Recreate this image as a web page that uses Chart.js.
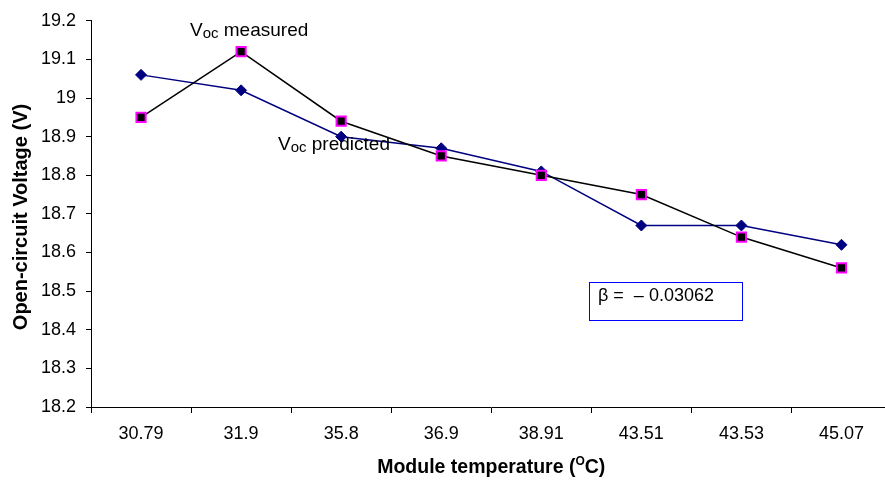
<!DOCTYPE html>
<html>
<head>
<meta charset="utf-8">
<script src="https://cdn.jsdelivr.net/npm/chart.js@4.4.1/dist/chart.umd.min.js"></script>
<style>
    html, body { margin: 0; padding: 0; background: #ffffff; overflow: hidden; }
    #wrap { width: 885px; height: 483px; overflow: hidden; }
</style>
</head>
<body>
<div id="wrap">
    <canvas id="vocChart" width="900" height="483"></canvas>
</div>
<script>
// --- Chart data ---

const temperatures = ["30.79", "31.9", "35.8", "36.9", "38.91", "43.51", "43.53", "45.07"];
const vocMeasured = [18.95, 19.12, 18.94, 18.85, 18.80, 18.75, 18.64, 18.56];
const vocPredicted = [19.06, 19.02, 18.90, 18.87, 18.81, 18.67, 18.67, 18.62];
const yMin = 18.2;
const yMax = 19.2;
const yStep = 0.1;
const betaText = "\u03b2 =  \u2013 0.03062";

const FONT = "'Liberation Sans', Arial, sans-serif";

// --- Text helpers ---

function drawVocLabel(ctx, x, y, rest) {
    ctx.font = "19px " + FONT;
    ctx.fillText("V", x, y);
    let w = ctx.measureText("V").width;
    ctx.font = "15px " + FONT;
    ctx.fillText("oc", x + w, y + 2);
    w += ctx.measureText("oc").width;
    ctx.font = "19px " + FONT;
    ctx.fillText(rest, x + w, y);
}

const annotationsPlugin = {
    id: "annotations",
    afterDatasetsDraw(chart) {
        const ctx = chart.ctx;
        const area = chart.chartArea;
        ctx.save();
        ctx.fillStyle = "#000";
        ctx.textBaseline = "alphabetic";
        ctx.textAlign = "left";

        // Series labels
        drawVocLabel(ctx, 190, 36, " measured");
        drawVocLabel(ctx, 278, 150, " predicted");

        // Beta box
        ctx.strokeStyle = "#0000ff";
        ctx.lineWidth = 1;
        ctx.strokeRect(589.5, 282.5, 153, 38);
        ctx.font = "18px " + FONT;
        ctx.fillText(betaText, 598, 301);

        // X axis title with superscript
        const parts = [
            { t: "Module temperature (", size: 19.5, dy: 0 },
            { t: "O", size: 12, dy: -8 },
            { t: "C)", size: 19.5, dy: 0 }
        ];
        let total = 0;
        parts.forEach(p => {
            ctx.font = "bold " + p.size + "px " + FONT;
            p.w = ctx.measureText(p.t).width;
            total += p.w;
        });
        let x = (area.left + area.right) / 2 - total / 2;
        parts.forEach(p => {
            ctx.font = "bold " + p.size + "px " + FONT;
            ctx.fillText(p.t, x, 473 + p.dy);
            x += p.w;
        });

        // Y axis title
        ctx.translate(27, 217);
        ctx.rotate(-Math.PI / 2);
        ctx.textAlign = "center";
        ctx.font = "bold 20px " + FONT;
        ctx.fillText("Open-circuit Voltage (V)", 0, 0);
        ctx.restore();
    }
};

// --- Chart ---

function renderVocChart() {
    const ctx = document.getElementById("vocChart").getContext("2d");

    new Chart(ctx, {
        type: "line",
        data: {
            labels: temperatures,
            datasets: [{
                label: "Voc measured",
                data: vocMeasured,
                borderColor: "#000000",
                borderWidth: 1.5,
                pointStyle: "rect",
                pointRadius: 6.5,
                pointBorderWidth: 2,
                pointBorderColor: "#ff00ff",
                pointBackgroundColor: "#000000",
                tension: 0
            }, {
                label: "Voc predicted",
                data: vocPredicted,
                borderColor: "#000080",
                borderWidth: 1.5,
                pointStyle: "rectRot",
                pointRadius: 5.5,
                pointBorderWidth: 1,
                pointBorderColor: "#000080",
                pointBackgroundColor: "#000080",
                tension: 0
            }]
        },
        options: {
            responsive: false,
            animation: false,
            devicePixelRatio: 1,
            layout: { padding: { top: 20, right: 8, left: 0, bottom: 0 } },
            plugins: {
                legend: { display: false },
                tooltip: { enabled: false }
            },
            scales: {
                x: {
                    offset: true,
                    grid: {
                        offset: true,
                        drawOnChartArea: false,
                        drawTicks: true,
                        tickLength: 6,
                        color: "#000"
                    },
                    border: { color: "#000", width: 1 },
                    ticks: {
                        color: "#000",
                        padding: 10,
                        maxRotation: 0,
                        autoSkip: false,
                        font: { family: FONT, size: 18 }
                    },
                    afterFit(scale) { scale.height = 76; }
                },
                y: {
                    min: yMin,
                    max: yMax,
                    grid: {
                        drawOnChartArea: false,
                        drawTicks: true,
                        tickLength: 5,
                        color: "#000"
                    },
                    border: { color: "#000", width: 1 },
                    ticks: {
                        stepSize: yStep,
                        color: "#000",
                        padding: 10,
                        font: { family: FONT, size: 18 },
                        callback: v => String(Math.round(v * 10) / 10)
                    },
                    afterFit(scale) { scale.width = 91; }
                }
            }
        },
        plugins: [annotationsPlugin]
    });
}

document.addEventListener("DOMContentLoaded", renderVocChart);
</script>
</body>
</html>
